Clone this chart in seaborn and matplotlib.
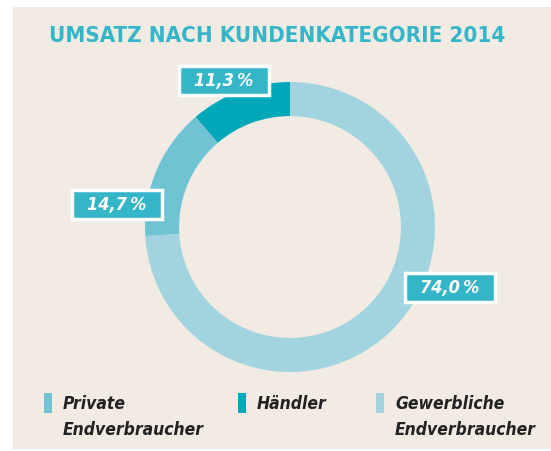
# Donut chart: Umsatz nach Kundenkategorie 2014

import matplotlib
matplotlib.use("Agg")
import matplotlib.pyplot as plt
from matplotlib.patches import Rectangle
import seaborn as sns

# Data (pie order: counter-clockwise from 12 o'clock)
categories = ["Händler", "Private\nEndverbraucher", "Gewerbliche\nEndverbraucher"]
shares = [11.3, 14.7, 74.0]
colors = ["#00a8ba", "#70c3d3", "#a2d4df"]

# Legend order as in the reference
legend_order = [1, 0, 2]

sns.set_theme(style="white")
plt.rcParams["font.family"] = ["DejaVu Sans"]
plt.rcParams["font.stretch"] = "condensed"

W, H = 551, 452
fig = plt.figure(figsize=(W / 100, H / 100), dpi=100)
fig.patch.set_facecolor("white")

# beige panel
fig.patches.append(Rectangle((13 / W, 2 / H), 1 - 13 / W, (H - 10) / H,
                             transform=fig.transFigure, facecolor="#f1ebe4",
                             edgecolor="none", zorder=-1))

# title
fig.text(49 / W, 1 - 36 / H, "UMSATZ NACH KUNDENKATEGORIE 2014", ha="left", va="center",
         fontsize=16, fontweight="bold", color="#35b5c8", fontstretch="condensed")

# donut
cx, cy, r = 290, 228, 145
ax = fig.add_axes([(cx - r) / W, (H - cy - r) / H, 2 * r / W, 2 * r / H])
ax.pie(shares, colors=colors, startangle=90, counterclock=True,
       wedgeprops=dict(width=0.235, edgecolor="none"))
ax.set_xlim(-1, 1)
ax.set_ylim(-1, 1)
ax.axis("off")

# value labels in boxes (centers in pixels)
box_centers = [(224, 81), (117, 205), (450, 288)]
bw, bh = 90, 29
for val, (bx, by) in zip(shares, box_centers):
    fig.patches.append(Rectangle(((bx - bw / 2) / W, 1 - (by + bh / 2) / H), bw / W, bh / H,
                                 transform=fig.transFigure, facecolor="#35b5c8",
                                 edgecolor="white", linewidth=2.5, zorder=5))
    label = f"{val:.1f}\u2009%".replace(".", ",")
    fig.text(bx / W, 1 - by / H, label, ha="center", va="center", fontsize=13,
             fontweight="bold", fontstyle="italic", color="white", zorder=6,
             fontstretch="condensed")

# legend
legend_x = [44, 238, 376]
for lx, idx in zip(legend_x, legend_order):
    fig.patches.append(Rectangle((lx / W, 1 - 414 / H), 8 / W, 20 / H,
                                 transform=fig.transFigure, facecolor=colors[idx],
                                 edgecolor="none", zorder=5))
    fig.text((lx + 19) / W, 1 - 395 / H, categories[idx], ha="left", va="top",
             fontsize=12.5, fontweight="bold", fontstyle="italic", color="#222222",
             linespacing=1.6, fontstretch="condensed")

fig.savefig("out.png", dpi=100, facecolor=fig.get_facecolor())
